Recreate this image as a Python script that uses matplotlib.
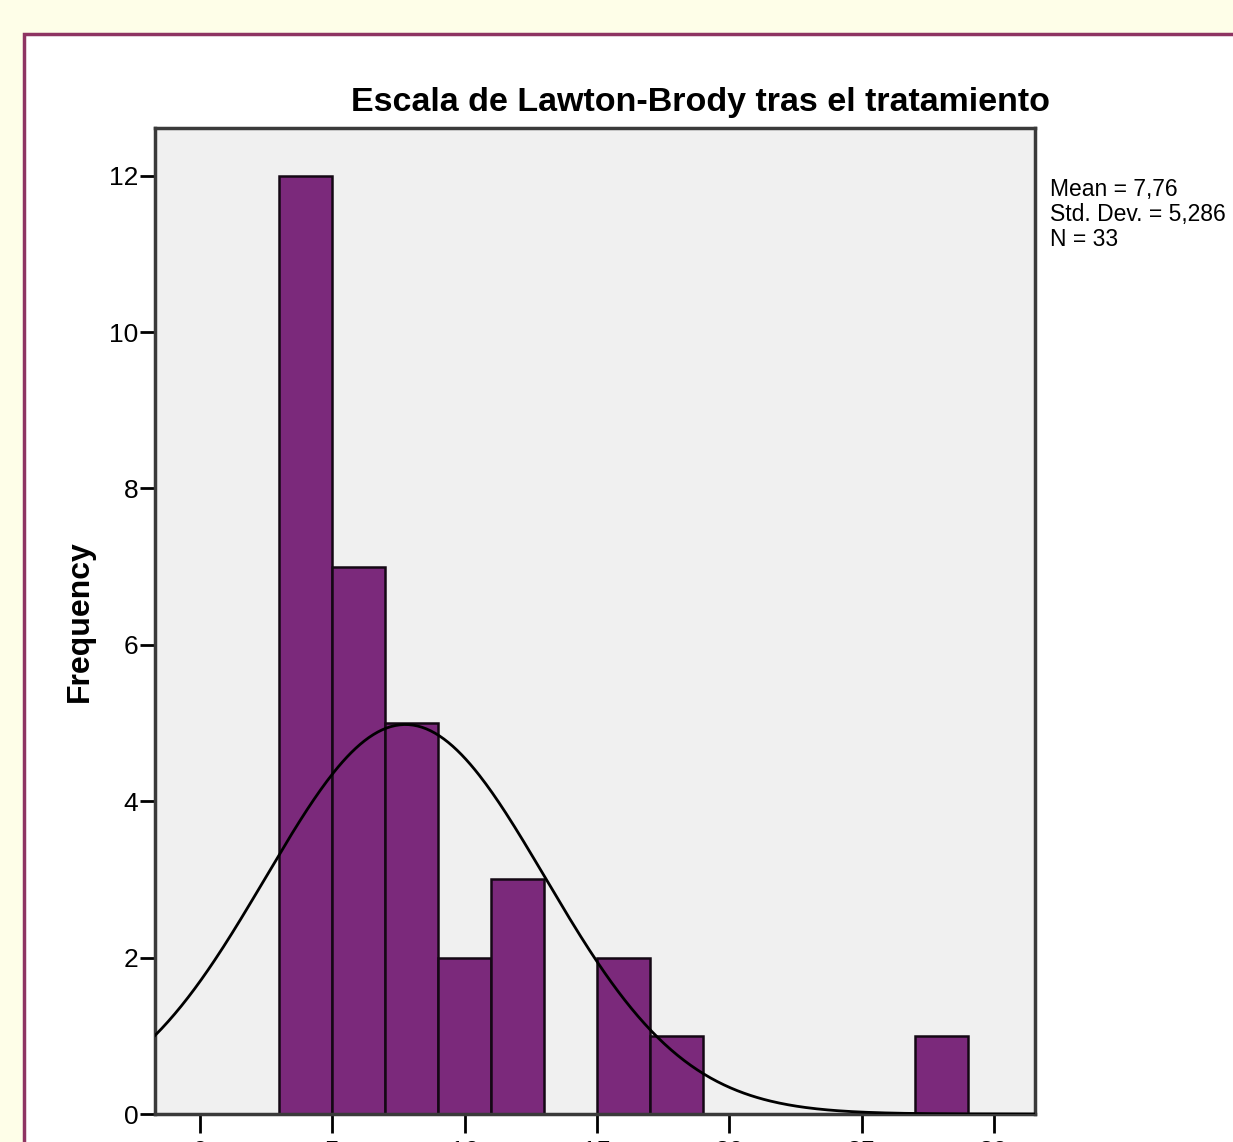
import numpy as np
import matplotlib
matplotlib.use("Agg")
import matplotlib.pyplot as plt
from matplotlib.patches import Rectangle

# histogram bins (width 2) and counts
bin_left = [3, 5, 7, 9, 11, 13, 15, 17, 19, 21, 23, 25, 27]
counts = [12, 7, 5, 2, 3, 0, 2, 1, 0, 0, 0, 0, 1]
bin_width = 2
mean = 7.76
std = 5.286
n = 33

x_ticks = [0, 5, 10, 15, 20, 25, 30]
y_ticks = [0, 2, 4, 6, 8, 10, 12]

plt.rcParams["font.family"] = ["Liberation Sans", "DejaVu Sans"]

fig = plt.figure(figsize=(12.33, 11.42), dpi=100)
fig.patch.set_facecolor("#fefee8")

# white panel with a maroon frame, running off the right and bottom edges
panel = Rectangle((24 / 1233, -0.1), 1.2, (1142 - 34) / 1142 + 0.1,
                  transform=fig.transFigure, facecolor="white",
                  edgecolor="#8e3462", linewidth=2.5, zorder=-5)
fig.patches.append(panel)

ax = fig.add_axes([155 / 1233, 28 / 1142, 880 / 1233, 986 / 1142])
ax.set_zorder(2)
ax.set_facecolor("#f0f0f0")

ax.bar(bin_left, counts, width=bin_width, align="edge", color="#7b297b",
       edgecolor="#140814", linewidth=1.8, zorder=2)

xs = np.linspace(-1.7, 31.55, 400)
curve = n * bin_width * np.exp(-0.5 * ((xs - mean) / std) ** 2) / (std * np.sqrt(2 * np.pi))
ax.plot(xs, curve, color="black", linewidth=2, zorder=3)

ax.set_xlim(-1.7, 31.55)
ax.set_ylim(0, 12.61)
ax.set_xticks(x_ticks)
ax.set_yticks(y_ticks)
ax.tick_params(axis="y", length=11, width=2, direction="out", labelsize=19, pad=1)
ax.tick_params(axis="x", length=14, width=2, direction="out", labelsize=19, pad=5)
for sp in ax.spines.values():
    sp.set_linewidth(2.5)
    sp.set_color("#3a3a3a")

ax.set_ylabel("Frequency", fontsize=23, fontweight="bold", labelpad=10)
ax.set_title("Escala de Lawton-Brody tras el tratamiento", fontsize=24.5,
             fontweight="bold", pad=12, x=0.62)

fig.text(1050 / 1233, 1 - 178 / 1142,
         f"Mean = {mean:.2f}".replace(".", ",") + "\n"
         + f"Std. Dev. = {std:.3f}".replace("5.", "5,") + f"\nN = {n}",
         fontsize=16.5, va="top", ha="left", linespacing=1.1,
         family=["Liberation Sans Narrow", "Liberation Sans", "DejaVu Sans"])

fig.savefig("out.png", dpi=100, facecolor=fig.get_facecolor())
